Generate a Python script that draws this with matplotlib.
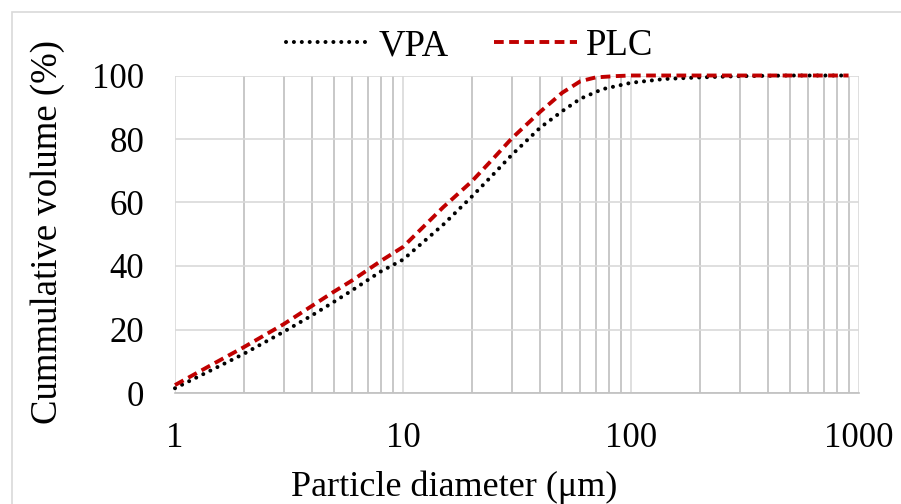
import matplotlib
matplotlib.use("Agg")
import matplotlib.pyplot as plt
from matplotlib.patches import Rectangle
from matplotlib.ticker import LogLocator, NullFormatter, FixedLocator

plt.rcParams['font.family'] = ['Liberation Serif', 'DejaVu Serif']

# Particle size distribution data (cumulative volume, %)
vpa_x = [1, 1.5, 2, 3, 4, 5, 6, 8, 10, 15, 20, 25, 30, 40, 50, 60, 75, 100, 140, 200, 300, 500, 900]
vpa_y = [1.5, 7.8, 12.3, 19.3, 24.5, 28.8, 32.4, 38.3, 42.0, 53.0, 61.8, 69.0, 75.0, 83.6, 88.8, 92.7, 95.7, 97.7, 98.9, 99.4, 99.8, 100, 100]

plc_x = [1, 1.5, 2, 3, 4, 5, 6, 8, 10, 15, 20, 25, 30, 40, 50, 60, 70, 85, 100, 200, 900]
plc_y = [2.5, 9.5, 14.4, 21.7, 27.5, 32.0, 35.5, 41.6, 46.0, 58.5, 66.6, 74.0, 80.2, 88.6, 94.6, 98.2, 99.4, 99.8, 100, 100, 100]

x_ticks = [1, 10, 100, 1000]
x_tick_labels = ["1", "10", "100", "1000"]
y_ticks = [0, 20, 40, 60, 80, 100]

W, H = 901, 504
fig = plt.figure(figsize=(W / 100, H / 100), dpi=100)

# outer chart border (light gray)
fig.patches.append(Rectangle((12 / W, -0.1), 1.2, 1 - 12 / H + 0.1, transform=fig.transFigure,
                             fill=False, edgecolor='#d9d9d9', linewidth=1.2))

L, R, T, B = 175, 859, 75.5, 393
ax = fig.add_axes([L / W, 1 - B / H, (R - L) / W, (B - T) / H])
ax.set_xscale('log')
ax.set_xlim(1, 1000)
ax.set_ylim(0, 100)

ax.xaxis.set_major_locator(FixedLocator(x_ticks))
ax.set_xticklabels(x_tick_labels)
ax.xaxis.set_minor_locator(LogLocator(base=10, subs=range(2, 10)))
ax.xaxis.set_minor_formatter(NullFormatter())
ax.set_yticks(y_ticks)

ax.grid(which='major', axis='both', color='#d9d9d9', linewidth=1.2)
ax.grid(which='minor', axis='x', color='#bfbfbf', linewidth=1.2)
ax.set_axisbelow(True)
for s in ['top', 'right', 'left']:
    ax.spines[s].set_visible(False)
ax.spines['bottom'].set_color('#bfbfbf')
ax.spines['bottom'].set_linewidth(1.2)

ax.tick_params(axis='both', which='both', length=0, labelsize=25)
ax.tick_params(axis='y', pad=22)
ax.tick_params(axis='x', pad=21)

ax.plot(vpa_x, vpa_y, color='black', linewidth=2.9, linestyle=(0, (0.01, 1.95)),
        dash_capstyle='round', label='VPA', clip_on=False)
ax.plot(plc_x, plc_y, color='#c00000', linewidth=2.8, linestyle=(0, (2.5, 1.4)),
        dash_capstyle='butt', label='PLC', clip_on=False)

fig.text(454 / W, 1 - 487 / H, 'Particle diameter (μm)', ha='center', va='center', fontsize=26)
fig.text(48 / W, 1 - 232 / H, 'Cummulative volume (%)', ha='center', va='center',
         rotation=90, fontsize=26.5)

leg = fig.legend(loc='center', bbox_to_anchor=(470 / W, 1 - 46 / H), ncol=2, frameon=False,
                 fontsize=26.5, handlelength=2.25, handletextpad=0.25, columnspacing=1.25,
                 borderpad=0, borderaxespad=0)

fig.savefig('out.png', dpi=100)
